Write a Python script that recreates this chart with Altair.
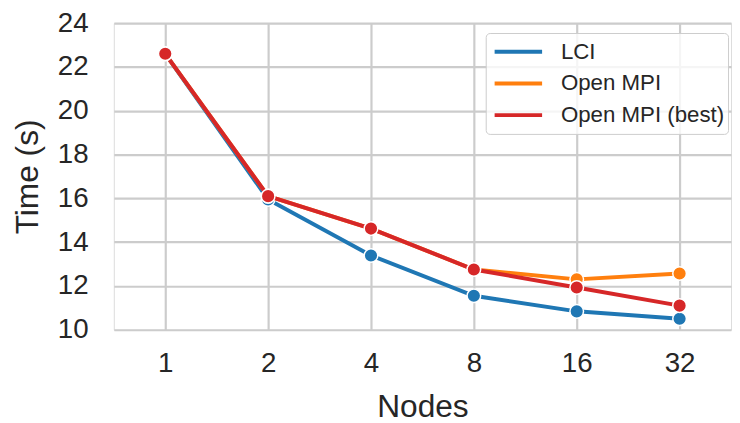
import altair as alt
import pandas as pd

nodes = ["1", "2", "4", "8", "16", "32"]
lci = [22.6, 15.95, 13.39, 11.55, 10.84, 10.5]
ompi = [22.6, 16.1, 14.62, 12.75, 12.3, 12.57]
ompi_best = [22.6, 16.1, 14.62, 12.75, 11.93, 11.1]

series_names = ["LCI", "Open MPI", "Open MPI (best)"]
series_vals = [lci, ompi, ompi_best]
colors = ["#1f77b4", "#ff7f0e", "#d62728"]

rows = []
for name, vals in zip(series_names, series_vals):
    for n, v in zip(nodes, vals):
        rows.append({"Nodes": n, "Time": v, "Series": name})
df = pd.DataFrame(rows)

FONT = "Liberation Sans"
TXT = "#262626"

x_enc = alt.X("Nodes:O", sort=nodes, title="Nodes",
              scale=alt.Scale(paddingOuter=0.5),
              axis=alt.Axis(labelAngle=0, labelFontSize=28, titleFontSize=32,
                            labelPadding=20, titlePadding=15, ticks=False, tickSize=0,
                            domain=False, grid=True, gridColor="#cccccc", gridWidth=2.2,
                            labelColor=TXT, titleColor=TXT, labelFont=FONT, titleFont=FONT,
                            titleFontWeight="normal"))
y_enc = alt.Y("Time:Q", title="Time (s)",
              scale=alt.Scale(domain=[10, 24], nice=False, zero=False),
              axis=alt.Axis(values=[10, 12, 14, 16, 18, 20, 22, 24], labelFontSize=28,
                            titleFontSize=32, labelPadding=26, titlePadding=13, ticks=False,
                            tickSize=0, domain=False, grid=True, gridColor="#cccccc",
                            gridWidth=2.2, labelColor=TXT, titleColor=TXT, labelFont=FONT,
                            titleFont=FONT, titleFontWeight="normal"))
color_scale = alt.Scale(domain=series_names, range=colors)

layers = []
for i, name in enumerate(series_names):
    base = alt.Chart(df).transform_filter(alt.datum.Series == name)
    legend = None
    if i == 0:
        legend = alt.Legend(title=None, orient="none", legendX=376, legendY=10,
                            symbolType="stroke", symbolSize=2304, symbolStrokeWidth=4,
                            clipHeight=32, rowPadding=0, padding=3, symbolOffset=4,
                            labelOffset=17, labelFontSize=22.5, labelFont=FONT,
                            labelLimit=400,
                            labelColor=TXT, fillColor="rgba(255,255,255,0.8)",
                            strokeColor="#cccccc", cornerRadius=4)
    line = base.mark_line(strokeWidth=4).encode(
        x=x_enc, y=y_enc,
        color=alt.Color("Series:N", scale=color_scale, legend=legend),
    )
    pts = base.mark_point(filled=True, size=190, opacity=1, stroke="white",
                          strokeWidth=1.5).encode(
        x=x_enc, y=y_enc,
        fill=alt.Fill("Series:N", scale=color_scale, legend=None),
    )
    layers += [line, pts]

chart = alt.layer(*layers).properties(
    width=624, height=310,
    autosize=alt.AutoSizeParams(type="none"),
    padding={"left": 107, "top": 13, "right": 1, "bottom": 92},
).configure_view(stroke="#cccccc", strokeWidth=2.5).configure(background="white")

chart.save("out.html", embed_options={"renderer": "svg", "actions": False})
